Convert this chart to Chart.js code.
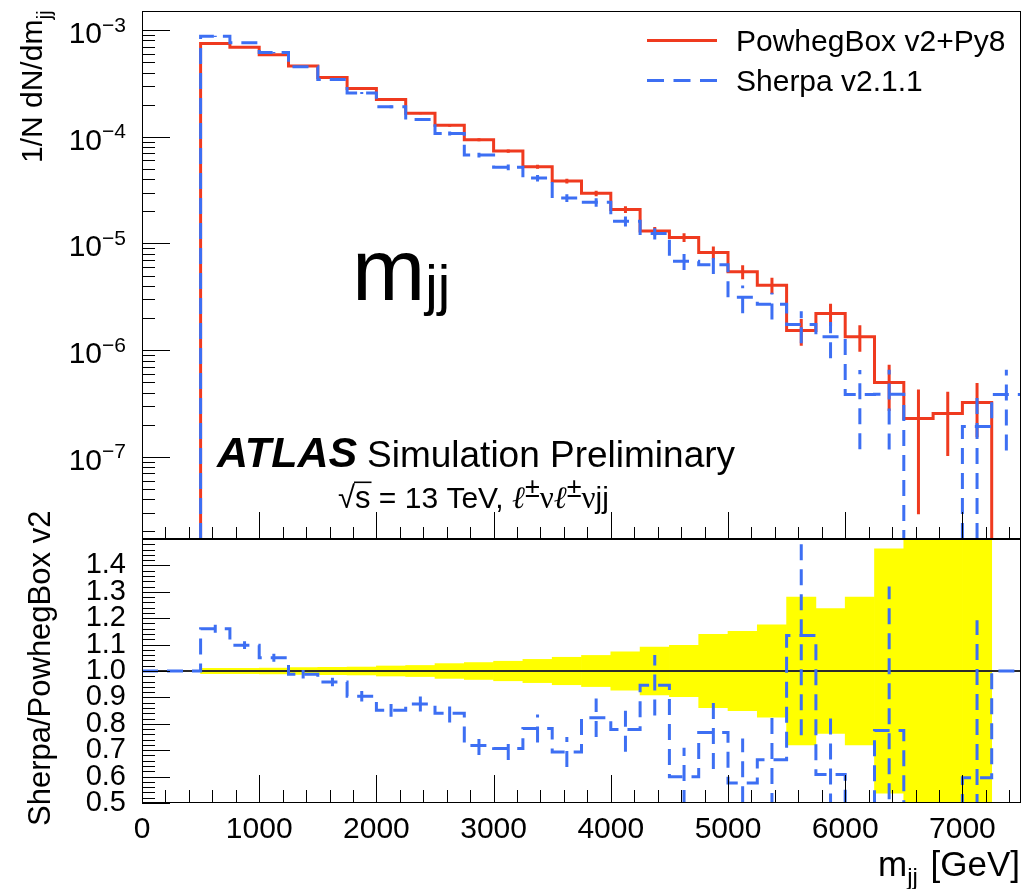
<!DOCTYPE html>
<html>
<head>
<meta charset="utf-8">
<title>m_jj distribution</title>
<script src="https://cdn.jsdelivr.net/npm/chart.js@4/dist/chart.umd.min.js"></script>
<style>
  html, body { margin: 0; padding: 0; background: #ffffff; }
  #wrap { position: relative; width: 1022px; height: 889px; overflow: hidden; }
  #wrap canvas { position: absolute; left: 0; top: 0; }
</style>
</head>
<body>
<div id="wrap">
  <canvas id="mainPad" width="1022" height="889"></canvas>
  <canvas id="ratioPad" width="1022" height="889"></canvas>
</div>
<script>
// ---------------- data ----------------
const binEdges = [0,250,500,750,1000,1250,1500,1750,2000,2250,2500,2750,3000,3250,3500,3750,
                  4000,4250,4500,4750,5000,5250,5500,5750,6000,6250,6500,6750,7000,7250,7500];

const powheg = [0, 0, 7.5e-4, 6.9e-4, 5.87e-4, 4.6e-4, 3.6e-4, 2.84e-4, 2.24e-4, 1.66e-4,
                1.28e-4, 9.4e-5, 7.35e-5, 5.24e-5, 3.85e-5, 2.95e-5, 2.08e-5, 1.31e-5, 1.14e-5, 8.24e-6,
                5.43e-6, 4.07e-6, 1.53e-6, 2.21e-6, 1.34e-6, 4.99e-7, 2.29e-7, 2.55e-7, 3.23e-7, 0];
const powhegErr = [0, 0, 7.5e-6, 6.9e-6, 6.5e-6, 6.0e-6, 5.0e-6, 4.3e-6, 4.3e-6, 3.5e-6,
                   3.6e-6, 3.0e-6, 2.7e-6, 2.3e-6, 2.0e-6, 1.74e-6, 1.52e-6, 1.19e-6, 1.1e-6, 1.15e-6,
                   8.1e-7, 7.1e-7, 4.3e-7, 5.2e-7, 3.75e-7, 2.3e-7, 2.0e-7, 1.53e-7, 1.7e-7, 0];

const sherpa = [0, 0, 8.75e-4, 7.6e-4, 6.16e-4, 4.54e-4, 3.45e-4, 2.57e-4, 1.91e-4, 1.45e-4,
                1.075e-4, 6.75e-5, 5.19e-5, 4.1e-5, 2.67e-5, 2.43e-5, 1.62e-5, 1.24e-5, 6.83e-6, 6.32e-6,
                3.13e-6, 2.70e-6, 1.74e-6, 1.34e-6, 3.85e-7, 3.87e-7, 0, 0, 1.93e-7, 3.85e-7];
const sherpaErr = [0, 0, 1.13e-5, 1.04e-5, 8.8e-6, 7.4e-6, 5.8e-6, 5.7e-6, 5.4e-6, 4.6e-6,
                   4.5e-6, 3.4e-6, 3.2e-6, 2.8e-6, 2.2e-6, 2.2e-6, 1.75e-6, 1.5e-6, 1.2e-6, 1.14e-6,
                   9.1e-7, 7.6e-7, 5.8e-7, 5.0e-7, 2.67e-7, 2.7e-7, 0, 0, 1.93e-7, 2.7e-7];

const ratio = [1, 1, 1.160, 1.098, 1.050, 0.988, 0.958, 0.904, 0.851, 0.875,
               0.840, 0.718, 0.706, 0.782, 0.693, 0.823, 0.778, 0.946, 0.599, 0.767,
               0.576, 0.664, 1.134, 0.608, 0.29, 0.775, 0, 0, 0.596, 1];
const ratioErr = [0, 0, 0.015, 0.015, 0.015, 0.016, 0.016, 0.020, 0.024, 0.028,
                  0.035, 0.036, 0.043, 0.053, 0.057, 0.073, 0.084, 0.115, 0.110, 0.138,
                  0.168, 0.187, 0.377, 0.227, 0.200, 0.545, 0, 0, 0.596, 0];
const bandRel = [0, 0, 0.010, 0.010, 0.011, 0.013, 0.014, 0.015, 0.019, 0.021,
                 0.028, 0.032, 0.037, 0.044, 0.052, 0.059, 0.073, 0.091, 0.097, 0.139,
                 0.150, 0.175, 0.280, 0.236, 0.280, 0.463, 0.870, 0.600, 0.530, 0];

const xTickValues = [0, 1000, 2000, 3000, 4000, 5000, 6000, 7000];
const xTickLabels = ['0', '1000', '2000', '3000', '4000', '5000', '6000', '7000'];
const yExponents = [-7, -6, -5, -4, -3];
const ratioTickValues = [0.5, 0.6, 0.7, 0.8, 0.9, 1.0, 1.1, 1.2, 1.3, 1.4];
const legendLabels = ['PowhegBox v2+Py8', 'Sherpa v2.1.1'];

// ---------------- style ----------------
const RED = '#ef3a1f';
const BLUE = '#3d6ff3';
const FONT = "'Liberation Sans', Arial, Helvetica, sans-serif";
const SERIF = "'Liberation Serif', 'DejaVu Serif', 'Times New Roman', serif";
const TOP_MIN = 1.7e-8, TOP_MAX = 1.51e-3;
const DASH = [16, 9];

// ---------------- helpers ----------------
function histPoints(vals, floor) {
  const pts = [];
  const f = v => (v > 0 ? v : floor);
  for (let i = 0; i < vals.length; i++) {
    if (i > 0 && !(vals[i - 1] > 0) && vals[i] > 0) pts.push({ x: binEdges[i], y: floor });
    pts.push({ x: binEdges[i], y: f(vals[i]) });
  }
  pts.push({ x: binEdges[vals.length], y: f(vals[vals.length - 1]) });
  return pts;
}
function errPoints(vals, errs, floor) {
  const pts = [];
  for (let i = 0; i < vals.length; i++) {
    if (!(vals[i] > 0) || !(errs[i] > 0)) continue;
    const c = (binEdges[i] + binEdges[i + 1]) / 2;
    pts.push({ x: c, y: Math.max(vals[i] - errs[i], floor) });
    pts.push({ x: c, y: vals[i] + errs[i] });
    pts.push({ x: c, y: null });
  }
  return pts;
}
function bandPoints() {
  const pts = [];
  for (let i = 0; i < bandRel.length; i++) {
    if (!(bandRel[i] > 0)) continue;
    pts.push({ x: (binEdges[i] + binEdges[i + 1]) / 2, y: [1 - bandRel[i], 1 + bandRel[i]] });
  }
  return pts;
}
const hideFlat = floor => ({
  borderColor: c => (c.p0.parsed.y <= floor && c.p1.parsed.y <= floor) ? 'rgba(0,0,0,0)' : undefined
});
function txt(ctx, s, x, y, size, o) {
  o = o || {};
  ctx.font = (o.style || '') + ' ' + (o.weight || '') + ' ' + size + 'px ' + (o.family || FONT);
  ctx.textAlign = o.align || 'left';
  ctx.textBaseline = 'alphabetic';
  ctx.fillStyle = o.color || '#000';
  ctx.fillText(s, x, y);
  return ctx.measureText(s).width;
}
function drawFrame(ctx, a) {
  ctx.strokeStyle = '#000'; ctx.lineWidth = 1; ctx.setLineDash([]);
  ctx.strokeRect(a.left + 0.5, a.top + 0.5, a.right - a.left - 1, a.bottom - a.top - 1);
}
function drawXTicks(ctx, a, xs, major, minor) {
  ctx.beginPath();
  for (let v = 0; v <= 7500; v += 200) {
    const px = Math.round(xs.getPixelForValue(v)) + 0.5;
    const len = v % 1000 === 0 ? major : minor;
    ctx.moveTo(px, a.bottom); ctx.lineTo(px, a.bottom - len);
  }
  ctx.stroke();
}

// ---------------- decorations ----------------
const mainDecor = {
  id: 'mainDecor',
  afterDraw(chart) {
    const ctx = chart.ctx, a = chart.chartArea, xs = chart.scales.x, ys = chart.scales.y;
    ctx.save();
    drawFrame(ctx, a);
    drawXTicks(ctx, a, xs, 27, 12);
    ctx.beginPath();
    for (let e = -8; e <= -3; e++) {
      for (let k = 1; k <= 9; k++) {
        const v = k * Math.pow(10, e);
        if (v < TOP_MIN || v > TOP_MAX * 1.0001) continue;
        const py = Math.round(ys.getPixelForValue(v)) + 0.5;
        ctx.moveTo(a.left, py); ctx.lineTo(a.left + (k === 1 ? 28 : 13), py);
      }
    }
    ctx.stroke();

    // y tick labels 10^n
    yExponents.forEach(e => {
      const y = ys.getPixelForValue(Math.pow(10, e));
      const sup = '\u2212' + Math.abs(e);
      ctx.font = '21px ' + FONT;
      const sw = ctx.measureText(sup).width;
      const right = 126;
      txt(ctx, '10', right - sw, y + 13, 30, { align: 'right' });
      txt(ctx, sup, right - sw, y + 1.5, 21);
    });

    // y title
    ctx.save();
    ctx.translate(42, 163);
    ctx.rotate(-Math.PI / 2);
    const tw = txt(ctx, '1/N dN/dm', 0, 0, 30);
    txt(ctx, 'jj', tw, 9, 21);
    ctx.restore();

    // legend
    ctx.lineWidth = 3;
    ctx.strokeStyle = RED; ctx.setLineDash([]);
    ctx.beginPath(); ctx.moveTo(647, 40.5); ctx.lineTo(717, 40.5); ctx.stroke();
    ctx.strokeStyle = BLUE; ctx.setLineDash([17, 9.5]);
    ctx.beginPath(); ctx.moveTo(647, 80.5); ctx.lineTo(717, 80.5); ctx.stroke();
    ctx.setLineDash([]);
    txt(ctx, legendLabels[0], 736, 50.5, 30);
    txt(ctx, legendLabels[1], 736, 90.5, 30);

    // big m_jj label
    const mw = txt(ctx, 'm', 352, 300, 88);
    txt(ctx, 'jj', 352 + mw, 304, 56);

    // ATLAS label
    txt(ctx, 'ATLAS', 217, 466.7, 43, { style: 'italic', weight: 'bold' });
    txt(ctx, 'Simulation Preliminary', 367, 466.7, 37);

    // sqrt(s) line
    let x = 338; const base = 508.3;
    const rw = txt(ctx, '\u221A', x, base, 31);
    x += rw;
    const sw2 = txt(ctx, 's', x, base, 31);
    ctx.strokeStyle = '#000'; ctx.lineWidth = 1.6;
    ctx.beginPath(); ctx.moveTo(x - 1, base - 26); ctx.lineTo(x + sw2 + 1, base - 26); ctx.stroke();
    x += sw2;
    x += txt(ctx, ' = 13 TeV, ', x, base, 30);
    for (let r = 0; r < 2; r++) {
      x += txt(ctx, '\u2113', x, base, 31, { style: 'italic', family: SERIF });
      x += txt(ctx, '\u00B1', x, base - 11, 27);
      x += txt(ctx, '\u03BD', x, base, 31, { family: SERIF });
    }
    txt(ctx, 'jj', x, base, 30);
    ctx.restore();
  }
};

const ratioDecor = {
  id: 'ratioDecor',
  afterDraw(chart) {
    const ctx = chart.ctx, a = chart.chartArea, xs = chart.scales.x, ys = chart.scales.y;
    ctx.save();
    drawFrame(ctx, a);
    drawXTicks(ctx, a, xs, 28, 13);
    ctx.beginPath();
    for (let i = 0; i <= 50; i++) {
      const v = 0.5 + i * 0.02;
      const py = Math.round(ys.getPixelForValue(v)) + 0.5;
      ctx.moveTo(a.left, py); ctx.lineTo(a.left + (i % 5 === 0 ? 28 : 13), py);
    }
    ctx.stroke();

    // x title  m_jj [GeV]
    const big = 35, small = 24;
    ctx.font = big + 'px ' + FONT;
    const wGeV = ctx.measureText(' [GeV]').width;
    const wm = ctx.measureText('m').width;
    ctx.font = small + 'px ' + FONT;
    const wjj = ctx.measureText('jj').width;
    const x0 = 1020 - wGeV - wjj - wm - 3;
    txt(ctx, 'm', x0, 876, big);
    txt(ctx, 'jj', x0 + wm, 885, small);
    txt(ctx, ' [GeV]', x0 + wm + wjj + 3, 876, big);

    // y title
    ctx.save();
    ctx.translate(50, 826);
    ctx.rotate(-Math.PI / 2);
    txt(ctx, 'Sherpa/PowhegBox v2', 0, 0, 31);
    ctx.restore();
    ctx.restore();
  }
};

const common = {
  responsive: false, animation: false, devicePixelRatio: 1, events: [],
  plugins: { legend: { display: false }, tooltip: { enabled: false }, title: { display: false } }
};

// ---------------- main pad ----------------
new Chart(document.getElementById('mainPad'), {
  type: 'line',
  data: {
    datasets: [
      { label: legendLabels[0], data: histPoints(powheg, TOP_MIN), borderColor: RED, borderWidth: 3,
        stepped: 'before', pointRadius: 0, fill: false, clip: 0, order: 4, segment: hideFlat(TOP_MIN) },
      { label: 'Powheg stat. error', data: errPoints(powheg, powhegErr, TOP_MIN), borderColor: RED,
        borderWidth: 3, pointRadius: 0, fill: false, clip: 0, order: 3, spanGaps: false },
      { label: legendLabels[1], data: histPoints(sherpa, TOP_MIN), borderColor: BLUE, borderWidth: 3,
        borderDash: DASH, stepped: 'before', pointRadius: 0, fill: false, clip: 0, order: 2, segment: hideFlat(TOP_MIN) },
      { label: 'Sherpa stat. error', data: errPoints(sherpa, sherpaErr, TOP_MIN), borderColor: BLUE,
        borderWidth: 3, borderDash: DASH, pointRadius: 0, fill: false, clip: 0, order: 1, spanGaps: false }
    ]
  },
  options: Object.assign({}, common, {
    layout: { padding: { left: 142, right: 1, top: 11, bottom: 350 } },
    scales: {
      x: { type: 'linear', min: 0, max: 7500, display: false, offset: false },
      y: { type: 'logarithmic', min: TOP_MIN, max: TOP_MAX, display: false }
    }
  }),
  plugins: [mainDecor]
});

// ---------------- ratio pad ----------------
new Chart(document.getElementById('ratioPad'), {
  type: 'line',
  data: {
    datasets: [
      { type: 'bar', label: 'Powheg stat. unc.', data: bandPoints(), backgroundColor: '#ffff00',
        borderWidth: 0, categoryPercentage: 1, barPercentage: 1, grouped: false, clip: 0, order: 4 },
      { label: 'unity', data: [{ x: 0, y: 1 }, { x: 7500, y: 1 }], borderColor: '#2b2b2b', borderWidth: 2,
        pointRadius: 0, fill: false, clip: 0, order: 3 },
      { label: 'Sherpa/Powheg', data: histPoints(ratio, 0), borderColor: BLUE, borderWidth: 3, borderDash: DASH,
        stepped: 'before', pointRadius: 0, fill: false, clip: 0, order: 2, segment: hideFlat(0) },
      { label: 'ratio error', data: errPoints(ratio, ratioErr, 0), borderColor: BLUE, borderWidth: 3,
        borderDash: DASH, pointRadius: 0, fill: false, clip: 0, order: 1, spanGaps: false }
    ]
  },
  options: Object.assign({}, common, {
    layout: { padding: { left: 0, right: 1, top: 539, bottom: 0 } },
    scales: {
      x: {
        type: 'linear', min: 0, max: 7500, offset: false,
        grid: { display: false, drawTicks: false }, border: { display: false },
        afterBuildTicks: s => { s.ticks = xTickValues.map(v => ({ value: v })); },
        afterFit: s => { s.height = 86; },
        ticks: { autoSkip: false, maxRotation: 0, minRotation: 0, padding: 9, color: '#000',
                 font: { size: 30, family: FONT }, callback: (v, i) => xTickLabels[i] }
      },
      y: {
        type: 'linear', min: 0.5, max: 1.5,
        grid: { display: false, drawTicks: false }, border: { display: false },
        afterBuildTicks: s => { s.ticks = ratioTickValues.map(v => ({ value: v })); },
        afterFit: s => { s.width = 142; },
        ticks: { autoSkip: false, padding: 16, color: '#000', font: { size: 29, family: FONT },
                 callback: v => Number(v).toFixed(1) }
      }
    }
  }),
  plugins: [ratioDecor]
});
</script>
</body>
</html>
